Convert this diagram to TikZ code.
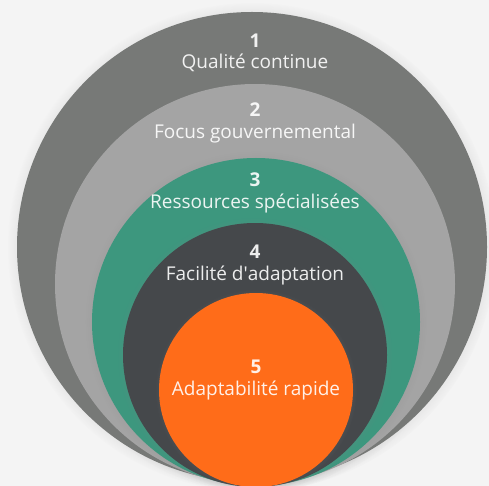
\documentclass[tikz,border=0pt]{standalone}
\usepackage{fontspec}
\setmainfont{Open Sans}
\usepackage{xcolor}
\usepackage{tikz}
\usetikzlibrary{shadows,positioning}

\definecolor{bgGrey}{HTML}{F4F4F4}
\definecolor{ringOne}{HTML}{777977}
\definecolor{ringTwo}{HTML}{A4A4A4}
\definecolor{ringThree}{HTML}{3D977E}
\definecolor{ringFour}{HTML}{45484B}
\definecolor{ringFive}{HTML}{FF6C19}

\begin{document}
\begin{tikzpicture}[
  x=1pt, y=-1pt,
  ring/.style={circle, draw=none, inner sep=0pt, outer sep=0pt,
    circular drop shadow={shadow xshift=0pt, shadow yshift=0pt, shadow scale=1.04, opacity=.35}},
  caption/.style={align=center, text=white, text opacity=.9, font=\fontsize{19}{21.5}\selectfont, inner sep=0pt}
]
\fill[bgGrey] (0,0) rectangle (489,486);
\useasboundingbox (0,0) rectangle (489,486);

\node[ring, fill=ringOne, minimum size=470pt] (ring1) at (252,247) {};
\node[ring, fill=ringTwo, minimum size=400pt] (ring2) at (255,284) {};
\node[ring, fill=ringThree, minimum size=328pt] (ring3) at (256,322) {};
\node[ring, fill=ringFour, minimum size=264pt] (ring4) at (255,355) {};
\node[ring, fill=ringFive, minimum size=194pt] (ring5) at (256,390) {};

\node[caption] (cap1) at (255,53) {\textbf{1}\\Qualité continue};
\node[caption] (cap2) at (255,123) {\textbf{2}\\Focus gouvernemental};
\node[caption] (cap3) at (255,193) {\textbf{3}\\Ressources spécialisées};
\node[caption] (cap4) at (255,265) {\textbf{4}\\Facilité d\textquotesingle adaptation};
\node[caption] (cap5) at (256,380) {\textbf{5}\\Adaptabilité rapide};
\end{tikzpicture}
\end{document}
